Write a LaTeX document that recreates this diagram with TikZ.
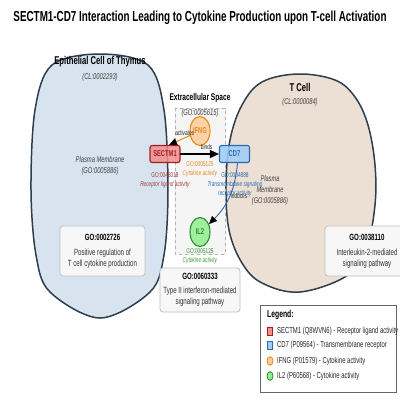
\documentclass[tikz,border=0pt]{standalone}
\usepackage{fontspec}
\setmainfont{Liberation Sans}[FakeStretch=0.68]
\usetikzlibrary{shapes.geometric,arrows.meta,positioning}

\definecolor{epifill}{HTML}{D7E4F0}
\definecolor{tfill}{HTML}{ECE0D4}
\definecolor{celledge}{HTML}{2C3E50}
\definecolor{sectmfill}{HTML}{F28E8E}
\definecolor{sectmedge}{HTML}{A31F1F}
\definecolor{sectmtext}{HTML}{A33A3A}
\definecolor{cdfill}{HTML}{9ECDF8}
\definecolor{cdedge}{HTML}{2A6AB0}
\definecolor{ifngfill}{HTML}{FFCC99}
\definecolor{ifngedge}{HTML}{E8891E}
\definecolor{ilfill}{HTML}{90EE90}
\definecolor{iledge}{HTML}{2E8B2E}
\definecolor{iltext}{HTML}{3A9A3A}

\begin{document}
\begin{tikzpicture}[x=1pt, y=-1pt, line cap=round,
  celltitle/.style={font=\bfseries\fontsize{11.3}{13}\selectfont},
  idtext/.style={font=\itshape\fontsize{8.5}{11.5}\selectfont, text=black!75, align=center},
  protein/.style={rectangle, rounded corners=2pt, minimum width=30pt, minimum height=17pt,
    line width=1.1pt, inner sep=0pt, font=\bfseries\fontsize{8.5}{10}\selectfont,
    fill opacity=0.85, text opacity=1},
  ligand/.style={ellipse, minimum width=20pt, minimum height=29pt, inner sep=0pt,
    line width=1.1pt, font=\bfseries\fontsize{8.5}{10}\selectfont,
    fill opacity=0.85, text opacity=1},
  golabel/.style={font=\fontsize{7}{9}\selectfont, align=center, inner sep=0pt},
  edgelabel/.style={font=\fontsize{7}{8}\selectfont, text=black!85, inner sep=1pt},
  gobox/.style={draw=black!25, fill=black!3, rounded corners=3pt, line width=0.8pt,
    align=center, text=black!80, font=\fontsize{9}{11}\selectfont},
  legendtext/.style={font=\fontsize{8.7}{10}\selectfont, anchor=west, inner sep=0pt, text=black!85},
  swatch/.style={rectangle, minimum width=5.5pt, minimum height=8pt, inner sep=0pt, line width=0.8pt},
  legenddot/.style={ellipse, minimum width=6pt, minimum height=8.5pt, inner sep=0pt, line width=0.8pt},
]
  \useasboundingbox (0,0) rectangle (400,400);
  \clip (0,0) rectangle (400,400);

  % Title
  \node[font=\bfseries\fontsize{14.5}{16}\selectfont] (title) at (200,18)
    {SECTM1-CD7 Interaction Leading to Cytokine Production upon T-cell Activation};

  % Cells
  \draw[draw=celledge, line width=1.5pt, fill=epifill] plot[smooth cycle, tension=0.55] coordinates
    {(100,54) (148,65) (164,110) (168,190) (164,255) (150,292)
     (100,318) (50,292) (36,255) (31,190) (35,110) (52,65)};
  \draw[draw=celledge, line width=1.5pt, fill=tfill] plot[smooth cycle, tension=0.6] coordinates
    {(298,74) (335,80) (355,97) (368,125) (375,165) (375,205) (367,245) (348,275)
     (300,292) (262,283) (242,263) (229,230) (226,185) (230,140) (242,105) (262,82)};

  \node[celltitle] (epititle) at (100,62) {Epithelial Cell of Thymus};
  \node[idtext] (epiid) at (100,77) {(CL:0002293)};
  \node[idtext] (epimem) at (100,166) {Plasma Membrane\\(GO:0005886)};

  \node[celltitle] (ttitle) at (300,87) {T Cell};
  \node[idtext] (tid) at (300,102) {(CL:0000084)};
  \node[idtext, font=\itshape\fontsize{8.3}{11}\selectfont] (tmem) at (270,190) {Plasma\\Membrane\\(GO:0005886)};

  % Extracellular space
  \draw[draw=black!30, fill=black!4, dashed, line width=0.8pt] (175,108) rectangle (225,254);
  \node[font=\bfseries\fontsize{9.7}{11}\selectfont] (ecstitle) at (200,98) {Extracellular Space};
  \node[idtext] (ecsid) at (200,113) {(GO:0005615)};

  % GO process boxes
  \node[gobox, minimum width=85pt, minimum height=50pt] (go2726) at (102.5,251)
    {\textbf{\textcolor{black}{GO:0002726}}\\[4pt]Positive regulation of\\T cell cytokine production};
  \node[gobox, minimum width=80pt, minimum height=44pt] (go60333) at (200,290)
    {\textbf{\textcolor{black}{GO:0060333}}\\[3pt]Type II interferon-mediated\\signaling pathway};
  \node[gobox, minimum width=84pt, minimum height=50pt] (go38110) at (367,251)
    {\textbf{\textcolor{black}{GO:0038110}}\\[4pt]Interleukin-2-mediated\\signaling pathway};

  % Proteins
  \node[protein, fill=sectmfill, draw=sectmedge, text=sectmedge] (sectm) at (165,154) {SECTM1};
  \node[protein, fill=cdfill, draw=cdedge, text=cdedge] (cd7) at (234.5,154) {CD7};
  \node[ligand, fill=ifngfill, draw=ifngedge, text=ifngedge] (ifng) at (200,131) {IFNG};
  \node[ligand, fill=ilfill, draw=iledge, text=iledge] (il2) at (200,232) {IL2};

  % Interactions
  \draw[line width=1.2pt, -{Triangle[length=9pt, width=8pt]}] (sectm) --
    node[edgelabel, pos=0.68, above=3pt] (bindlbl) {binds} (cd7);
  \draw[draw=ifngedge, line width=1pt, -{Triangle[length=8pt, width=7pt, color=black]}] (ifng) --
    node[edgelabel, pos=0.25, above=1pt] (actlbl) {activates} ([xshift=4pt]sectm.north);
  \draw[draw=cdedge, line width=0.9pt, -{Triangle[length=8pt, width=7pt, color=black]}] ([xshift=3pt]cd7.south)
    to[bend left=20] node[edgelabel, pos=0.5, right] (indlbl) {induces} (il2);

  % Molecular function labels
  \node[golabel, text=sectmtext] (sectmgo) at (165,180.5) {GO:0048018\\\textit{Receptor ligand activity}};
  \node[golabel, text=ifngedge] (ifnggo) at (200,169.5) {GO:0005125\\\textit{Cytokine activity}};
  \node[golabel, text=cdedge] (cd7go) at (235,185) {GO:0004888\\\textit{Transmembrane signaling}\\\textit{receptor activity}};
  \node[golabel, text=iltext] (il2go) at (200,256.5) {GO:0005125\\\textit{Cytokine activity}};

  % Legend
  \node[draw=black!60, fill=white, line width=0.8pt, minimum width=136pt, minimum height=87pt, inner sep=0pt]
    (legend) at (328,348.5) {};
  \node[font=\bfseries\fontsize{10}{12}\selectfont, anchor=west, inner sep=0pt] (legtitle) at (267,315) {Legend:};
  \node[swatch, fill=sectmfill, draw=sectmedge] (legsectm) at (270,331) {};
  \node[legendtext] (legsectmtxt) at (277,331) {SECTM1 (Q8WVN6) - Receptor ligand activity};
  \node[swatch, fill=cdfill, draw=cdedge] (legcd7) at (270,345.5) {};
  \node[legendtext] (legcd7txt) at (277,345.5) {CD7 (P09564) - Transmembrane receptor};
  \node[legenddot, fill=ifngfill, draw=ifngedge] (legifng) at (270,361) {};
  \node[legendtext] (legifngtxt) at (277,361) {IFNG (P01579) - Cytokine activity};
  \node[legenddot, fill=ilfill, draw=iledge] (legil2) at (270,376) {};
  \node[legendtext] (legil2txt) at (277,376) {IL2 (P60568) - Cytokine activity};
\end{tikzpicture}
\end{document}
